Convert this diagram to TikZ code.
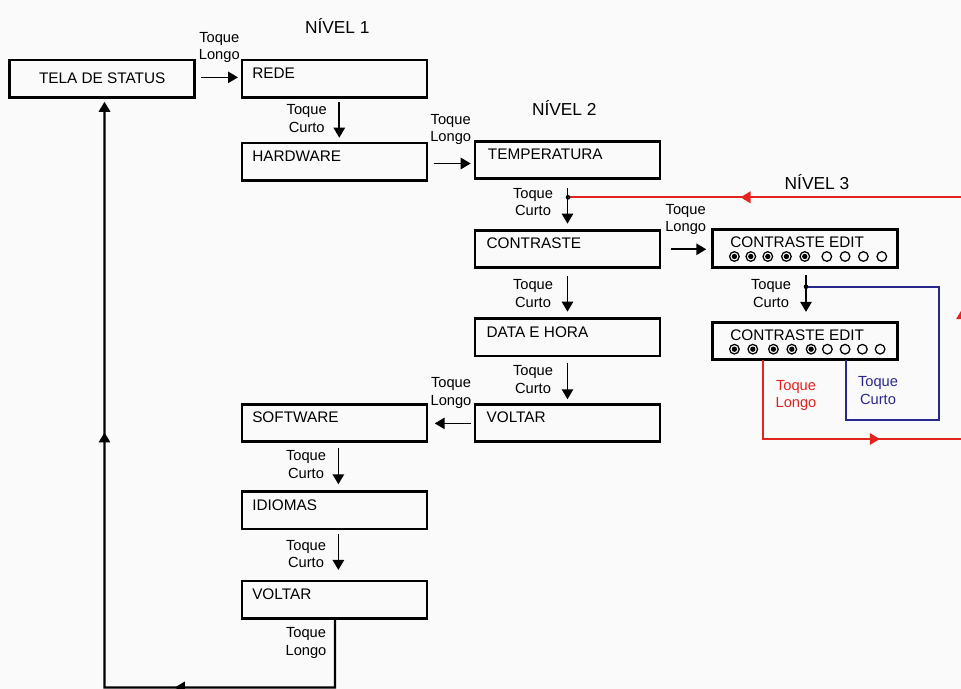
\documentclass[tikz,border=0pt]{standalone}
\usepackage{fontspec}
\setmainfont{Liberation Sans}
\usetikzlibrary{arrows.meta,decorations.markings}
\definecolor{bgc}{HTML}{FAFAFA}
\definecolor{redc}{RGB}{226,35,30}
\definecolor{bluec}{RGB}{40,40,140}
\newcommand{\boxfont}{\fontsize{11.5}{13}\selectfont}
\newcommand{\labfont}{\fontsize{11}{13.2}\selectfont}
\newcommand{\lvlfont}{\fontsize{13}{15}\selectfont}
\tikzset{
  box/.style={draw, line width=2.1pt, minimum width=138.75pt, minimum height=28pt, inner sep=0pt, outer sep=0pt},
  btxt/.style={anchor=base west, xshift=7.5pt, yshift=-13.8pt, font=\boxfont, inner sep=0pt},
  etxt/.style={anchor=base west, xshift=13pt, yshift=-13.6pt, font=\boxfont, inner sep=0pt},
  lab/.style={font=\labfont, align=center, inner sep=0pt},
  lvl/.style={font=\lvlfont, inner sep=0pt},
  arr/.style={line width=1.3pt, -{Triangle[length=7.5pt,width=8.5pt]}},
  jdot/.style={fill, circle, inner sep=0pt, minimum size=3.5pt},
  odot/.style={line width=0.95pt},
}
\newcommand{\dotrow}[3]{%
  \foreach \dx in {#2} {
    \draw[odot] ([xshift=\dx*0.75pt, yshift=-20pt]#1.north west) circle[radius=3.6pt];
    \fill ([xshift=\dx*0.75pt, yshift=-20pt]#1.north west) circle[radius=2pt];
  }
  \foreach \dx in {#3} {
    \draw[odot] ([xshift=\dx*0.75pt, yshift=-20pt]#1.north west) circle[radius=3.6pt];
  }
}
\begin{document}
\begin{tikzpicture}[x=0.75pt,y=-0.75pt]
\fill[bgc] (0,0) rectangle (961,689);
\clip (0,0) rectangle (961,689);

% level titles
\node[lvl] (n1) at (337.3,25.7) {NÍVEL 1};
\node[lvl] (n2) at (564.3,108.3) {NÍVEL 2};
\node[lvl] (n3) at (817,181.7) {NÍVEL 3};

% boxes
\node[box, font=\boxfont] (tela) at (102.2,78.7) {TELA DE STATUS};
\node[box, label={[btxt]north west:REDE}] (rede) at (334.5,78.7) {};
\node[box, label={[btxt]north west:HARDWARE}] (hw) at (334.5,161.7) {};
\node[box, label={[btxt,xshift=2pt]north west:TEMPERATURA}] (temp) at (567.5,160) {};
\node[box, label={[btxt,xshift=1pt]north west:CONTRASTE}] (contr) at (567.5,249) {};
\node[box, label={[btxt,xshift=1pt]north west:DATA E HORA}] (data) at (567.5,337.3) {};
\node[box, label={[btxt,xshift=1pt]north west:VOLTAR}] (volt2) at (567.5,423) {};
\node[box, label={[btxt]north west:SOFTWARE}] (soft) at (334.5,423) {};
\node[box, label={[btxt]north west:IDIOMAS}] (idio) at (334.5,510.3) {};
\node[box, label={[btxt]north west:VOLTAR}] (volt1) at (334.5,599.7) {};
\node[box, label={[etxt]north west:CONTRASTE EDIT}] (edit1) at (805.2,248.5) {};
\node[box, label={[etxt]north west:CONTRASTE EDIT}] (edit2) at (805.2,341.2) {};

% dots
\dotrow{edit1}{21.7,38.1,55.1,73.7,92.1}{114.1,132.4,150.7,169.1}
\dotrow{edit2}{21.7,40.1,60.7,79.1,98.4}{114.7,132.4,149.7,167.4}

% main flow arrows
\draw[arr] ([xshift=5pt,yshift=1pt]tela.east) -- ([xshift=-3pt,yshift=1pt]rede.west);
\node[lab] (l1) at (219.3,47.5) {Toque\\Longo};

\draw[arr] ([xshift=3.6pt,yshift=-3.3pt]rede.south) -- ([xshift=3.6pt,yshift=4pt]hw.north);
\node[lab] (l2) at (306.7,118.7) {Toque\\Curto};

\coordinate (hy) at (0,163.5);
\draw[arr] ([xshift=5pt]hw.east |- hy) -- ([xshift=-3.2pt]temp.west |- hy);
\node[lab] (l3) at (450.7,129.5) {Toque\\Longo};

\draw[arr] ([yshift=-6.8pt]temp.south) -- ([yshift=5pt]contr.north);
\node[lab] (l4) at (533,202) {Toque\\Curto};

\coordinate (cy) at (0,249.3);
\draw[arr] ([xshift=8.3pt]contr.east |- cy) -- ([xshift=-4.8pt]edit1.west |- cy);
\node[lab] (l5) at (685.7,219.5) {Toque\\Longo};

\draw[arr] ([yshift=-6.2pt]contr.south) -- ([yshift=5.2pt]data.north);
\node[lab] (l6) at (533,293.4) {Toque\\Curto};

\draw[arr] ([yshift=-5.5pt]data.south) -- ([yshift=3.8pt]volt2.north);
\node[lab] (l7) at (533,379.5) {Toque\\Curto};

\draw[arr] ([xshift=-3pt,yshift=-0.3pt]volt2.west) -- ([xshift=5.8pt,yshift=-0.3pt]soft.east);
\node[lab] (l8) at (451,393) {Toque\\Longo};

\draw[arr] ([xshift=2.9pt,yshift=-5pt]soft.south) -- ([xshift=2.9pt,yshift=5.5pt]idio.north);
\node[lab] (l9) at (306,464.7) {Toque\\Curto};

\draw[arr] ([xshift=2.9pt,yshift=-3.8pt]idio.south) -- ([xshift=2.9pt,yshift=8.3pt]volt1.north);
\node[lab] (l10) at (306,554.2) {Toque\\Curto};

% level 3 edit arrow
\draw[arr] ([xshift=0.6pt,yshift=-6.2pt]edit1.south) -- ([xshift=0.6pt,yshift=8pt]edit2.north);
\node[lab] (l11) at (771,293.4) {Toque\\Curto};

% return to status screen
\coordinate (rb1) at (335,687.5);
\coordinate (rb2) at (104.5,687.5);
\draw[line width=1.6pt, -{Triangle[length=7.5pt,width=8.5pt]},
  postaction={decorate}, decoration={markings,
    mark=at position 172pt with {\arrow{Triangle[length=7.5pt,width=8.5pt]}},
    mark=at position 416pt with {\arrow{Triangle[length=7.5pt,width=8.5pt]}}}]
  ([xshift=0.4pt]volt1.south) -- (rb1) -- (rb2) -- ([yshift=-3.3pt]tela.south -| rb2);
\node[lab] (l12) at (306,643) {Toque\\Longo};

% blue loop
\coordinate (j2) at (806,286.7);
\coordinate (b1) at (939.3,286.7);
\coordinate (b2) at (939.3,420);
\coordinate (b3) at (846.2,420);
\draw[bluec, line width=1.6pt] (j2) -- (b1) -- (b2) -- (b3) -- (b3 |- edit2.south);
\node[jdot] (jd2) at (j2) {};
\node[lab, text=bluec] (l13) at (878,390.3) {Toque\\Curto};

% red loop
\coordinate (j1) at (568,197.3);
\coordinate (r0) at (763,360);
\coordinate (r1) at (763,439);
\coordinate (r2) at (962,439);
\coordinate (r3) at (962,197.3);
\draw[redc, line width=1.6pt, postaction={decorate}, decoration={markings,
    mark=at position 147pt with {\arrow{Triangle[length=7.5pt,width=8.5pt]}},
    mark=at position 306pt with {\arrow{Triangle[length=7.5pt,width=8.5pt]}},
    mark=at position 556pt with {\arrow{Triangle[length=7.5pt,width=8.5pt]}}}]
  (r0 |- edit2.south) -- (r1) -- (r2) -- (r3) -- (j1);
\node[jdot] (jd1) at (j1) {};
\node[lab, text=redc] (l14) at (796,395.5) {Toque\\Longo};
\end{tikzpicture}
\end{document}
